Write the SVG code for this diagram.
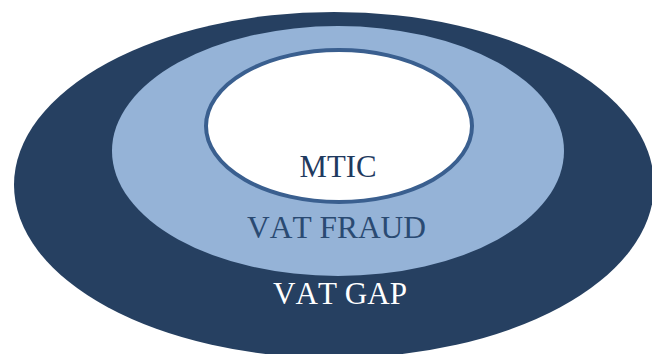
<svg xmlns="http://www.w3.org/2000/svg" width="652" height="354" viewBox="0 0 652 354">
<style>
text{font-family:"Liberation Serif","Times New Roman",serif;font-size:32px;text-anchor:middle;font-kerning:none}
.dark{fill:#1f3a5f}
.white{fill:#ffffff}
</style>
<rect width="652" height="354" fill="#ffffff"/>
<g id="vat-gap">
<ellipse cx="334" cy="185" rx="320" ry="173" fill="#264061"/>
<text x="340" y="304" class="white" textLength="134" lengthAdjust="spacingAndGlyphs">VAT GAP</text>
</g>
<g id="vat-fraud">
<ellipse cx="338" cy="151" rx="226" ry="125" fill="#95b3d7"/>
<text x="336.5" y="238" fill="#2a4a72" textLength="179" lengthAdjust="spacingAndGlyphs">VAT FRAUD</text>
</g>
<g id="mtic">
<ellipse cx="339" cy="126" rx="133" ry="76" fill="#ffffff" stroke="#3a5f8f" stroke-width="4"/>
<text x="338" y="177" class="dark" textLength="77" lengthAdjust="spacingAndGlyphs">MTIC</text>
</g>
<g id="connectors"/>
</svg>
